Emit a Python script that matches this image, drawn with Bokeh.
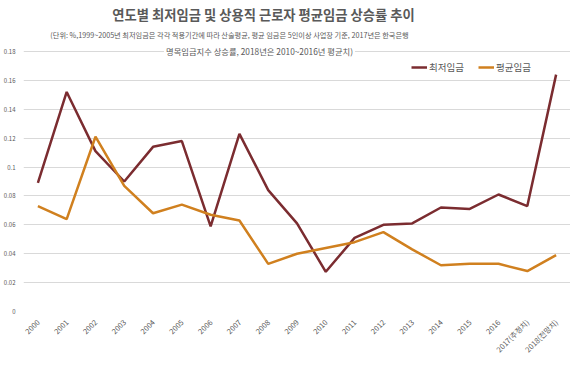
from bokeh.plotting import figure
from bokeh.models import FactorRange, Range1d, FixedTicker, Label, Legend, LegendItem, ColumnDataSource
from bokeh.embed import file_html
from bokeh.resources import INLINE
import math

years = ["2000", "2001", "2002", "2003", "2004", "2005", "2006", "2007", "2008", "2009",
         "2010", "2011", "2012", "2013", "2014", "2015", "2016", "2017(추정치)", "2018(전망치)"]
min_wage = [0.089, 0.152, 0.111, 0.090, 0.114, 0.118, 0.059, 0.123, 0.084, 0.061,
            0.0275, 0.051, 0.060, 0.061, 0.072, 0.071, 0.081, 0.073, 0.164]
avg_wage = [0.073, 0.064, 0.121, 0.087, 0.068, 0.074, 0.067, 0.063, 0.033, 0.040,
            0.044, 0.048, 0.055, 0.043, 0.032, 0.033, 0.033, 0.028, 0.039]
y_ticks = [0, 0.02, 0.04, 0.06, 0.08, 0.10, 0.12, 0.14, 0.16, 0.18]
y_tick_labels = ["0", "0.02", "0.04", "0.06", "0.08", "0.1", "0.12", "0.14", "0.16", "0.18"]

title_text = "연도별 최저임금 및 상용직 근로자 평균임금 상승률 추이"
sub1 = "(단위: %,1999~2005년 최저임금은 각각 적용기간에 따라 산술평균, 평균 임금은 5인이상 사업장 기준, 2017년은 한국은행"
sub2 = "명목임금지수 상승률, 2018년은 2010~2016년 평균치)"
series_names = ["최저임금", "평균임금"]

FONT = "Noto Sans CJK KR"
GRAY = "#595959"
C_MIN = "#7B2C30"
C_AVG = "#D0801F"

W, H = 570, 361
BOTTOM = 50
FB = H - BOTTOM          # frame bottom in canvas px (frame top is canvas top)
FL = 22                  # approx frame left in canvas px
TOP_GRID = 51            # canvas y of the top gridline
y_max = y_ticks[-1] * FB / (FB - TOP_GRID)

src = ColumnDataSource(dict(year=years, mn=min_wage, av=avg_wage))

p = figure(width=W, height=H, x_range=FactorRange(*years, range_padding=0),
           y_range=Range1d(0, y_max), output_backend="svg", toolbar_location=None,
           min_border_left=0, min_border_right=0, min_border_top=0, min_border_bottom=BOTTOM)
p.outline_line_color = None
p.background_fill_color = "white"
p.border_fill_color = "white"

r1 = p.line("year", "mn", source=src, line_color=C_MIN, line_width=2.5)
r2 = p.line("year", "av", source=src, line_color=C_AVG, line_width=2.5)

p.xgrid.grid_line_color = None
p.ygrid.grid_line_color = "#D9D9D9"
p.ygrid.grid_line_width = 1

p.yaxis.ticker = FixedTicker(ticks=y_ticks)
p.yaxis.major_label_overrides = {t: l for t, l in zip(y_ticks, y_tick_labels)}
p.yaxis.axis_line_color = None
p.yaxis.major_tick_line_color = None
p.yaxis.minor_tick_line_color = None
p.yaxis.major_label_text_font = FONT
p.yaxis.major_label_text_font_size = "6px"
p.yaxis.major_label_text_color = GRAY
p.yaxis.major_label_standoff = 2

p.xaxis.axis_line_color = None
p.xaxis.major_tick_line_color = None
p.xaxis.minor_tick_line_color = None
p.xaxis.major_label_orientation = math.pi / 4
p.xaxis.major_label_text_font = FONT
p.xaxis.major_label_text_font_size = "7.5px"
p.xaxis.major_label_text_color = GRAY
p.xaxis.major_label_standoff = 3

legend = Legend(items=[LegendItem(label=series_names[0], renderers=[r1]),
                       LegendItem(label=series_names[1], renderers=[r2])],
                orientation="horizontal", location=(388, FB - 66 - 8),
                border_line_color=None, background_fill_alpha=0,
                label_text_font=FONT, label_text_font_size="9.5px", label_text_color=GRAY,
                glyph_width=16, glyph_height=12, label_height=12, label_standoff=2,
                spacing=14, padding=2, margin=0)
p.add_layout(legend, "center")

p.add_layout(Label(x=262 - FL, y=FB - 14, x_units="screen", y_units="screen", text=title_text,
                   text_align="center", text_baseline="middle", text_font=FONT,
                   text_font_size="13.3px", text_font_style="bold", text_color=GRAY))
p.add_layout(Label(x=228 - FL, y=FB - 34, x_units="screen", y_units="screen", text=sub1,
                   text_align="center", text_baseline="middle", text_font=FONT,
                   text_font_size="7.2px", text_color=GRAY))
p.add_layout(Label(x=258 - FL, y=FB - 50, x_units="screen", y_units="screen", text=sub2,
                   text_align="center", text_baseline="middle", text_font=FONT,
                   text_font_size="8.3px", text_color=GRAY,
                   background_fill_color="white", padding=2))

open("out.html", "w").write(file_html(p, INLINE))
